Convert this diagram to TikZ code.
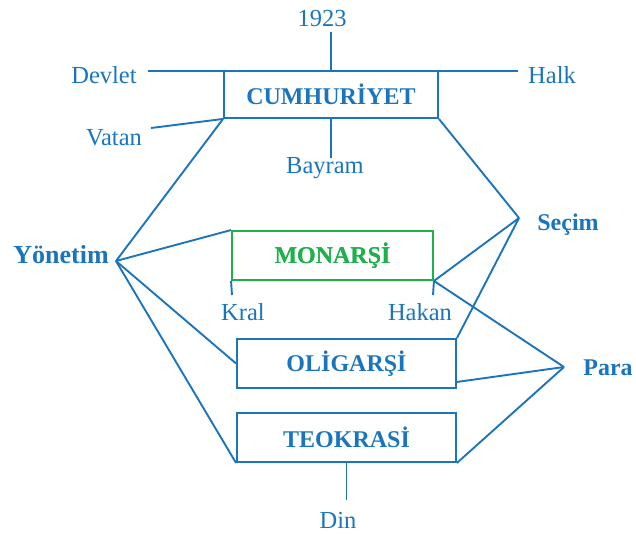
\documentclass[tikz,border=0pt]{standalone}
\usepackage{fontspec}
\setmainfont{Liberation Serif}
\usetikzlibrary{calc}
\definecolor{cblue}{RGB}{27,117,188}
\definecolor{cgreen}{RGB}{29,176,75}
\tikzset{
  lab/.style={text=cblue, inner sep=0pt, anchor=base, font=\fontsize{24.5}{29}\selectfont},
  blab/.style={lab, font=\fontsize{24}{29}\selectfont\bfseries},
  box/.style={draw=cblue, line width=1.9pt, text=cblue, inner sep=0pt, font=\fontsize{24}{29}\selectfont\bfseries},
  gbox/.style={box, draw=cgreen, text=cgreen},
  conn/.style={draw=cblue, line width=1.9pt}
}
\begin{document}
\begin{tikzpicture}[x=1pt,y=-1pt]
\useasboundingbox (0,0) rectangle (636,534);
% boxes
\node[box, minimum width=214pt, minimum height=47pt] (cum) at (331,94.5) {CUMHURİYET};
\node[gbox, minimum width=201pt, minimum height=49pt] (mon) at (332.5,255.5) {MONARŞİ};
\node[box, minimum width=219pt, minimum height=49pt] (oli) at (346.5,363.5) {OLİGARŞİ};
\node[box, minimum width=219pt, minimum height=49pt] (teo) at (346.5,437.5) {TEOKRASİ};
% labels
\node[lab] (y1923) at (322,27) {1923};
\node[lab] (devlet) at (104,84) {Devlet};
\node[lab] (halk) at (552,84) {Halk};
\node[lab] (vatan) at (114,146) {Vatan};
\node[lab] (bayram) at (325,174) {Bayram};
\node[lab] (kral) at (243,320) {Kral};
\node[lab] (hakan) at (420,320) {Hakan};
\node[lab] (din) at (338,528) {Din};
\node[blab, font=\fontsize{26}{30}\selectfont\bfseries] (yonetim) at (61,263) {Yönetim};
\node[blab] (secim) at (568,231) {Seçim};
\node[blab] (para) at (608,375) {Para};
% junction points
\coordinate (py) at (116,261);
\coordinate (ps) at (519,218);
\coordinate (pp) at (564,367);
\coordinate (dl) at (148,71);
\coordinate (hl) at (518,71);
\coordinate (t1923) at (331,32);
\coordinate (vl) at (151,128);
\coordinate (bl) at (331,158);
\coordinate (dinl) at (346.5,500);
\coordinate (kt) at (232,295);
\coordinate (ht) at (433,295);
% connectors
\draw[conn] (dl) -- (hl);
\draw[conn] (t1923) -- (cum.north);
\draw[conn] (vl) -- (cum.south west);
\draw[conn] (cum.south) -- (bl);
\draw[conn] (cum.south west) -- (py);
\draw[conn] (cum.south east) -- (ps);
\draw[conn] (py) -- (mon.north west);
\draw[conn] (py) -- (oli.west);
\draw[conn] (py) -- (teo.south west);
\draw[conn] (mon.south west) -- (kt);
\draw[conn] (mon.south east) -- (ht);
\draw[conn] (mon.south east) -- (ps);
\draw[conn] (mon.south east) -- (pp);
\draw[conn] (ps) -- (oli.north east);
\draw[conn] ($(oli.south east)+(0,-7)$) -- (pp);
\draw[conn] (teo.south east) -- (pp);
\draw[conn] (teo.south) -- (dinl);
% redraw green box on top
\node[gbox, minimum width=201pt, minimum height=49pt] at (332.5,255.5) {MONARŞİ};
\end{tikzpicture}
\end{document}
